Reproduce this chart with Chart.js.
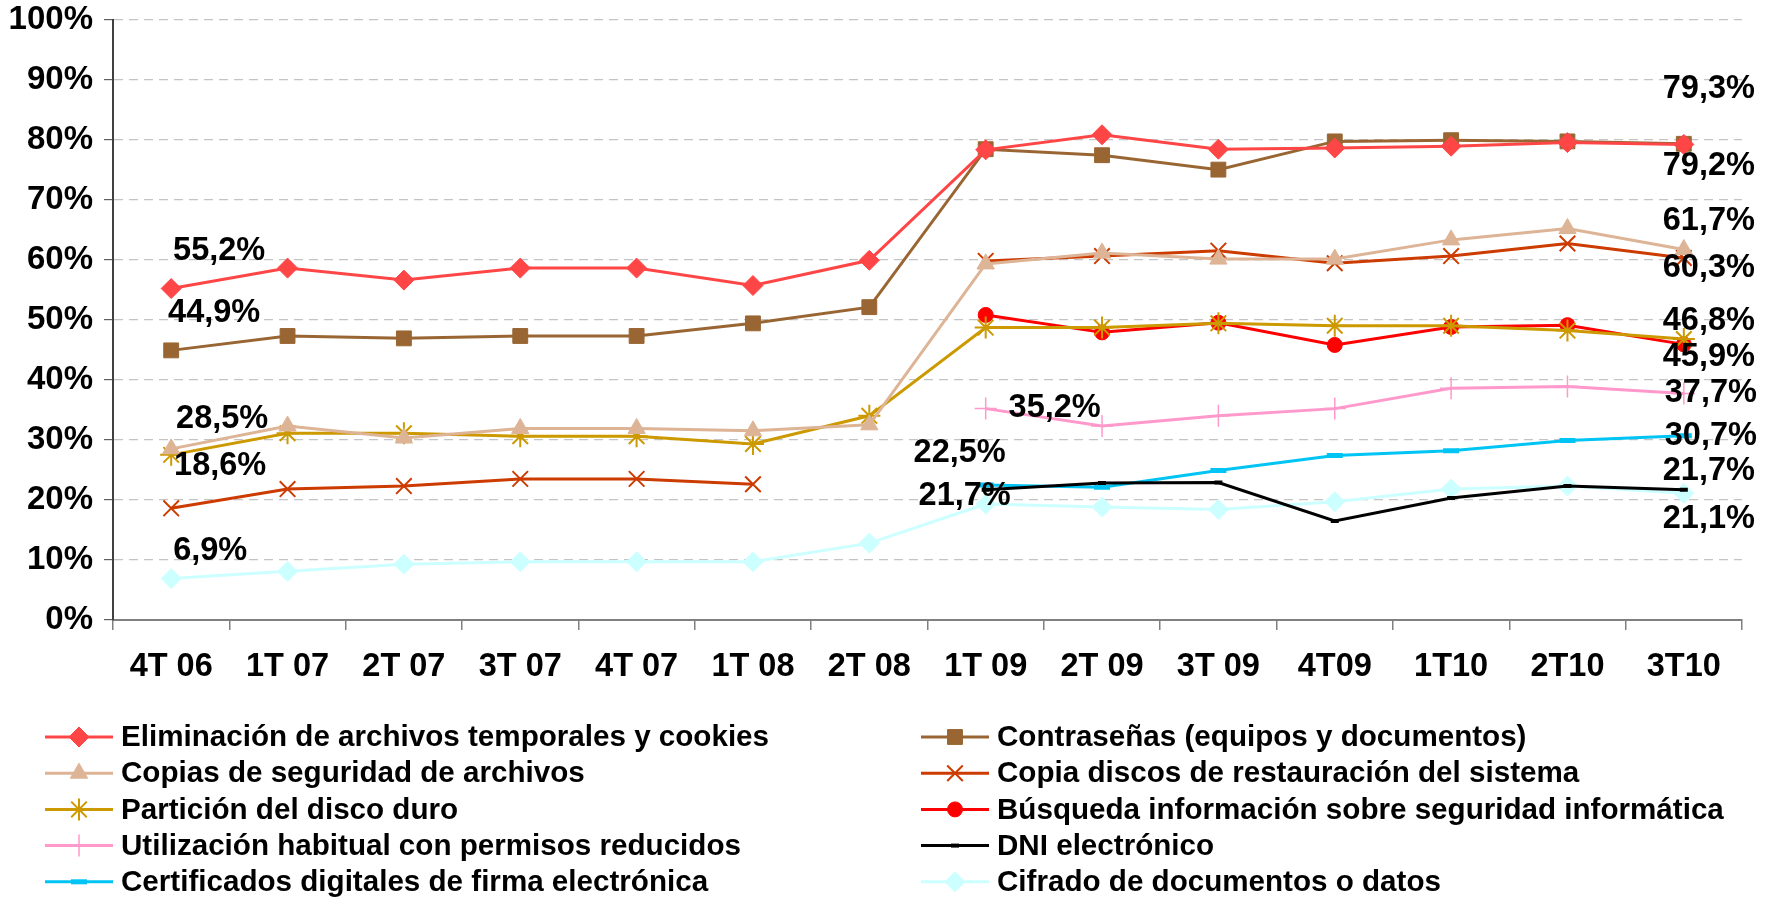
<!DOCTYPE html>
<html>
<head>
<meta charset="utf-8">
<script src="https://cdn.jsdelivr.net/npm/chart.js@4.4.0/dist/chart.umd.min.js"></script>
<style>
  html, body { margin: 0; padding: 0; background: #fff; }
  canvas { display: block; }
</style>
</head>
<body>
<canvas id="chart" width="1770" height="897"></canvas>
<script>
const quarters = ["4T 06", "1T 07", "2T 07", "3T 07", "4T 07", "1T 08", "2T 08",
                  "1T 09", "2T 09", "3T 09", "4T09", "1T10", "2T10", "3T10"];

const eliminacion   = [55.2, 58.6, 56.6, 58.6, 58.6, 55.7, 59.9, 78.3, 80.8, 78.4, 78.6, 78.9, 79.5, 79.2];
const contrasenas   = [44.9, 47.3, 46.9, 47.3, 47.3, 49.4, 52.1, 78.4, 77.4, 75.0, 79.7, 79.9, 79.7, 79.3];
const copiasSeg     = [28.5, 32.3, 30.3, 31.9, 31.9, 31.5, 32.5, 59.3, 61.1, 60.1, 60.1, 63.3, 65.2, 61.7];
const copiaDiscos   = [18.6, 21.8, 22.3, 23.5, 23.5, 22.6, null, 59.8, 60.6, 61.5, 59.4, 60.6, 62.7, 60.3];
const particion     = [27.5, 31.1, 31.1, 30.6, 30.6, 29.3, 34.0, 48.7, 48.7, 49.4, 49.0, 49.0, 48.2, 46.8];
const busqueda      = [null, null, null, null, null, null, null, 50.8, 47.9, 49.5, 45.8, 48.8, 49.1, 45.9];
const utilizacion   = [null, null, null, null, null, null, null, 35.2, 32.3, 34.0, 35.2, 38.6, 38.9, 37.7];
const dni           = [null, null, null, null, null, null, null, 21.7, 22.8, 22.9, 16.5, 20.3, 22.3, 21.7];
const certificados  = [null, null, null, null, null, null, null, 22.5, 22.1, 24.9, 27.4, 28.2, 29.9, 30.7];
const cifrado       = [6.9, 8.1, 9.3, 9.7, 9.7, 9.7, 12.8, 19.3, 18.8, 18.4, 19.7, 21.8, 22.3, 21.1];

const yTicks = [0, 10, 20, 30, 40, 50, 60, 70, 80, 90, 100];

// series: label, data, colour, marker
const series = [
  { label: "Eliminación de archivos temporales y cookies", data: eliminacion, color: "#FF4646", style: "rectRot", r: 10 },
  { label: "Contraseñas (equipos y documentos)", data: contrasenas, color: "#996633", style: "rect", r: 10.5 },
  { label: "Copias de seguridad de archivos", data: copiasSeg, color: "#DDB496", style: "triangle", r: 10 },
  { label: "Copia discos de restauración del sistema", data: copiaDiscos, color: "#CC3B00", style: "crossRot", r: 11, bw: 2 },
  { label: "Partición del disco duro", data: particion, color: "#CC9900", style: "star", r: 11, bw: 2 },
  { label: "Búsqueda información sobre seguridad informática", data: busqueda, color: "#FF0000", style: "circle", r: 7.5 },
  { label: "Utilización habitual con permisos reducidos", data: utilizacion, color: "#FF99CC", style: "cross", r: 11, bw: 1.5 },
  { label: "DNI electrónico", data: dni, color: "#000000", style: "line", r: 4, bw: 4 },
  { label: "Certificados digitales de firma electrónica", data: certificados, color: "#00C4F4", style: "line", r: 8, bw: 5 },
  { label: "Cifrado de documentos o datos", data: cifrado, color: "#CCFFFF", style: "rectRot", r: 10 }
];

// which points get a value label, and where it sits relative to the point
const valueLabels = [
  { s: 0, i: 0, dx: 48, dy: -37 },
  { s: 1, i: 0, dx: 43, dy: -37 },
  { s: 2, i: 0, dx: 51, dy: -30 },
  { s: 3, i: 0, dx: 49, dy: -42 },
  { s: 9, i: 0, dx: 39, dy: -28 },
  { s: 6, i: 7, dx: 69, dy: -1 },
  { s: 8, i: 7, dx: -26, dy: -32 },
  { s: 7, i: 7, dx: -21, dy: 6 },
  { s: 1, i: 13, dx: 25, dy: -55 },
  { s: 0, i: 13, dx: 25, dy: 22 },
  { s: 2, i: 13, dx: 25, dy: -28 },
  { s: 3, i: 13, dx: 25, dy: 10 },
  { s: 4, i: 13, dx: 25, dy: -18 },
  { s: 5, i: 13, dx: 25, dy: 13 },
  { s: 6, i: 13, dx: 27, dy: -1 },
  { s: 8, i: 13, dx: 27, dy: 0 },
  { s: 7, i: 13, dx: 25, dy: -19 },
  { s: 9, i: 13, dx: 25, dy: 26 }
];

const FONT = '"Liberation Sans", Arial, sans-serif';
Chart.defaults.font.family = FONT;
Chart.defaults.color = "#000";

const valueLabelPlugin = {
  id: "valueLabels",
  afterDatasetsDraw(chart) {
    const ctx = chart.ctx;
    ctx.save();
    ctx.font = "bold 32.5px " + FONT;
    ctx.fillStyle = "#000";
    ctx.textAlign = "center";
    ctx.textBaseline = "middle";
    valueLabels.forEach(l => {
      const pt = chart.getDatasetMeta(l.s).data[l.i];
      const v = chart.data.datasets[l.s].data[l.i];
      const txt = v.toFixed(1).replace(".", ",") + "%";
      ctx.fillText(txt, pt.x + l.dx, pt.y + l.dy);
    });
    ctx.restore();
  }
};

const legendPlugin = {
  id: "twoColLegend",
  afterDraw(chart) {
    const ctx = chart.ctx;
    chart.data.datasets.forEach((ds, n) => {
      const col = n % 2;
      const row = Math.floor(n / 2);
      const x0 = col ? 921 : 45;
      const y = 737 + row * 36.2;
      ctx.save();
      ctx.strokeStyle = ds.borderColor;
      ctx.lineWidth = 3;
      ctx.beginPath();
      ctx.moveTo(x0, y);
      ctx.lineTo(x0 + 68, y);
      ctx.stroke();
      ctx.fillStyle = ds.pointBackgroundColor;
      ctx.strokeStyle = ds.pointBorderColor;
      ctx.lineWidth = ds.pointBorderWidth;
      Chart.helpers.drawPoint(ctx, {
        pointStyle: ds.pointStyle, radius: ds.pointRadius,
        borderWidth: ds.pointBorderWidth, rotation: 0
      }, x0 + 34, y);
      ctx.font = "bold 29.6px " + FONT;
      ctx.fillStyle = "#000";
      ctx.textBaseline = "middle";
      ctx.fillText(ds.label, x0 + 76, y + 1);
      ctx.restore();
    });
  }
};

new Chart(document.getElementById("chart"), {
  type: "line",
  data: {
    labels: quarters,
    datasets: series.map(s => ({
      label: s.label,
      data: s.data,
      borderColor: s.color,
      backgroundColor: s.color,
      borderWidth: 3,
      pointStyle: s.style,
      pointRadius: s.r,
      pointHoverRadius: s.r,
      pointBackgroundColor: s.color,
      pointBorderColor: s.color,
      pointBorderWidth: s.bw || 1,
      tension: 0,
      spanGaps: false
    }))
  },
  options: {
    responsive: false,
    animation: false,
    devicePixelRatio: 1,
    layout: { padding: { top: 19.5, right: 28, left: 0, bottom: 0 } },
    plugins: { legend: { display: false }, tooltip: { enabled: false } },
    scales: {
      x: {
        type: "category",
        offset: true,
        grid: { offset: true, drawOnChartArea: false, tickLength: 10, color: "#808080", lineWidth: 1.5 },
        border: { color: "#808080", width: 2 },
        ticks: { font: { size: 32.5, weight: "bold" }, color: "#000", padding: 18, maxRotation: 0, autoSkip: false },
        afterFit(s) { s.height = 277; }
      },
      y: {
        min: 0,
        max: 100,
        afterBuildTicks(s) { s.ticks = yTicks.map(v => ({ value: v })); },
        grid: { color: "#C4C4C4", tickColor: "#606060", tickLength: 9, lineWidth: 1.2 },
        border: { color: "#404040", width: 2, dash: [9, 6] },
        ticks: {
          font: { size: 33, weight: "bold" }, color: "#000", padding: 11,
          callback: v => v + "%"
        },
        afterFit(s) { s.width = 113; s.paddingTop = 0; s.paddingBottom = 0; }
      }
    }
  },
  plugins: [valueLabelPlugin, legendPlugin]
});
</script>
</body>
</html>
